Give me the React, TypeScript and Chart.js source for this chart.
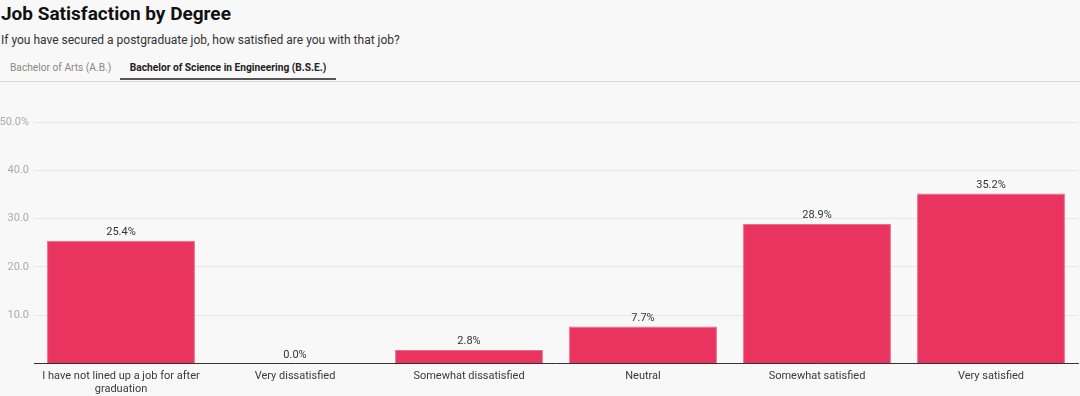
import React, { useEffect, useRef } from "react";
import { Chart, registerables } from "chart.js";

Chart.register(...registerables);

const categories: (string | string[])[] = [
  ["I have not lined up a job for after", "graduation"],
  "Very dissatisfied",
  "Somewhat dissatisfied",
  "Neutral",
  "Somewhat satisfied",
  "Very satisfied",
];
const values: number[] = [25.4, 0.0, 2.8, 7.7, 28.9, 35.2];
const yTicks: number[] = [0, 10, 20, 30, 40, 50];
const tabs: string[] = ["Bachelor of Arts (A.B.)", "Bachelor of Science in Engineering (B.S.E.)"];

const FONT = "Roboto, 'Noto Sans', sans-serif";

const valueLabels = {
  id: "valueLabels",
  afterDatasetsDraw(chart: any) {
    const ctx = chart.ctx;
    const meta = chart.getDatasetMeta(0);
    ctx.save();
    ctx.font = `11px ${FONT}`;
    ctx.fillStyle = "#333333";
    ctx.textAlign = "center";
    ctx.textBaseline = "bottom";
    meta.data.forEach((bar: any, i: number) => {
      const v = chart.data.datasets[0].data[i] as number;
      ctx.fillText(v.toFixed(1) + "%", bar.x, bar.y - 3);
    });
    ctx.restore();
  },
};

export default function App() {
  const ref = useRef<HTMLCanvasElement | null>(null);
  useEffect(() => {
    document.body.style.margin = "0";
    if (!ref.current) return;
    const chart = new Chart(ref.current, {
      type: "bar",
      data: {
        labels: categories,
        datasets: [
          {
            data: values,
            backgroundColor: "#e8345f",
            borderColor: "#f06a8a",
            borderWidth: { top: 1, left: 1, right: 1, bottom: 0 },
            barPercentage: 0.85,
            categoryPercentage: 1,
          },
        ],
      },
      options: {
        animation: false,
        responsive: true,
        maintainAspectRatio: false,
        layout: { padding: { top: 22, right: 2, bottom: 0, left: 0 } },
        plugins: { legend: { display: false }, tooltip: { enabled: false } },
        scales: {
          x: {
            grid: { display: false, drawTicks: false },
            border: { color: "#333333", width: 1 },
            ticks: {
              color: "#3a3a3a",
              font: { family: FONT, size: 11 },
              padding: 6,
              maxRotation: 0,
              autoSkip: false,
            },
          },
          y: {
            min: 0,
            max: 50,
            afterBuildTicks(scale: any) {
              scale.ticks = yTicks.map((v) => ({ value: v }));
            },
            afterFit(scale: any) {
              scale.width = 34;
            },
            grid: { color: "#e6e6e6", drawTicks: false },
            border: { display: false },
            ticks: {
              color: "#aaaaaa",
              font: { family: FONT, size: 11 },
              padding: 5,
              callback: (v: any) => {
                const n = Number(v);
                if (n === 0) return "";
                return n === 50 ? n.toFixed(1) + "%" : n.toFixed(1);
              },
            },
          },
        },
      },
      plugins: [valueLabels],
    });
    return () => chart.destroy();
  }, []);

  return (
    <div
      style={{
        position: "relative",
        width: 1080,
        height: 396,
        background: "#f8f8f8",
        fontFamily: FONT,
        overflow: "hidden",
      }}
    >
      <div
        style={{
          position: "absolute",
          left: 1,
          top: 1,
          fontSize: 19,
          fontWeight: 700,
          color: "#111",
          lineHeight: "26px",
        }}
      >
        Job Satisfaction by Degree
      </div>
      <div
        style={{
          position: "absolute",
          left: 1,
          top: 31,
          fontSize: 12,
          color: "#333",
          lineHeight: "18px",
        }}
      >
        If you have secured a postgraduate job, how satisfied are you with that job?
      </div>
      <div
        style={{
          position: "absolute",
          left: 0,
          top: 81,
          width: 1080,
          height: 1,
          background: "#d8d8d8",
        }}
      />
      <div
        style={{
          position: "absolute",
          left: 10,
          top: 61,
          fontSize: 10.2,
          color: "#888",
          lineHeight: "14px",
        }}
      >
        {tabs[0]}
      </div>
      <div
        style={{
          position: "absolute",
          left: 120,
          top: 61,
          width: 216,
          height: 17,
          borderBottom: "2px solid #555",
          fontSize: 10.2,
          fontWeight: 700,
          color: "#222",
          lineHeight: "14px",
          textAlign: "center",
        }}
      >
        {tabs[1]}
      </div>
      <div style={{ position: "absolute", left: 0, top: 100, width: 1080, height: 302 }}>
        <canvas ref={ref} />
      </div>
    </div>
  );
}
